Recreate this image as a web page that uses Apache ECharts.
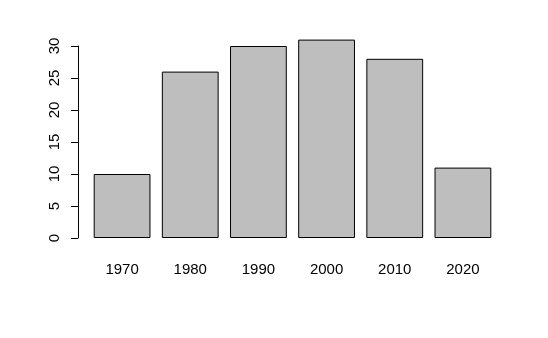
<!DOCTYPE html>
<html>
<head>
<meta charset="utf-8">
<script src="https://cdn.jsdelivr.net/npm/echarts@6/dist/echarts.min.js"></script>
<style>html,body{margin:0;padding:0;background:#fff}#c{width:548px;height:338px}</style>
</head>
<body>
<div id="c"></div>
<script>
const categories = ['1970', '1980', '1990', '2000', '2010', '2020'];
const values = [10, 26, 30, 31, 28, 11];
const yTicks = [0, 5, 10, 15, 20, 25, 30];

const chart = echarts.init(document.getElementById('c'), null, {renderer: 'canvas'});
const font = 'Liberation Sans, Arial, Helvetica, sans-serif';
chart.setOption({
  animation: false,
  backgroundColor: '#ffffff',
  grid: {left: 88, right: 51, top: 46, bottom: 100, containLabel: false},
  xAxis: {
    type: 'category',
    data: categories,
    axisLine: {show: false},
    axisTick: {show: false},
    axisLabel: {color: '#000', fontFamily: font, fontSize: 15, margin: 24}
  },
  yAxis: {
    type: 'value',
    min: yTicks[0],
    max: yTicks[yTicks.length - 1],
    interval: 5,
    offset: 10,
    splitLine: {show: false},
    axisLine: {show: true, lineStyle: {color: '#000', width: 1}},
    axisTick: {show: true, length: 7, lineStyle: {color: '#000', width: 1}},
    axisLabel: {color: '#000', fontFamily: font, fontSize: 15, rotate: 90, margin: 16}
  },
  series: [{
    type: 'bar',
    data: values,
    clip: false,
    barCategoryGap: '16.7%',
    itemStyle: {color: '#bebebe', borderColor: '#000', borderWidth: 1}
  }]
});
</script>
</body>
</html>
